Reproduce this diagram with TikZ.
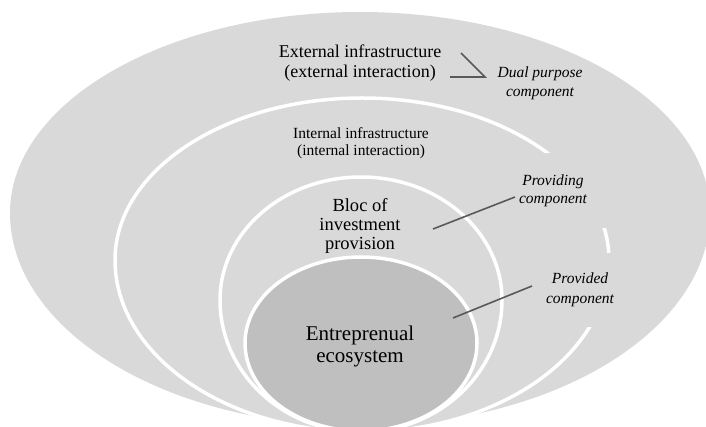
\documentclass[tikz,border=0pt]{standalone}
\usepackage{fontspec}
\setmainfont{Liberation Serif}
\definecolor{lightfill}{HTML}{D9D9D9}
\definecolor{darkfill}{HTML}{BFBFBF}
\definecolor{leadcol}{HTML}{595959}
\tikzset{
  ringshape/.style={fill=lightfill, draw=white, line width=3.5pt},
  coreshape/.style={fill=darkfill, draw=white, line width=3.5pt},
  masker/.style={fill=lightfill, draw=none},
  maintext/.style={inner sep=0pt, align=center, text=black},
  sidetext/.style={inner sep=0pt, align=center, text=black, font=\fontsize{15.5}{19}\selectfont\itshape},
  leader/.style={draw=leadcol, line width=1.6pt}
}
\begin{document}
\begin{tikzpicture}[x=1pt, y=-1pt]
\useasboundingbox (0,0) rectangle (706,427);
\clip (0,0) rectangle (706,427);
% outer shape
\path[fill=lightfill] (10,213) arc[start angle=180, end angle=360, x radius=350, y radius=201]
  arc[start angle=0, end angle=180, x radius=350, y radius=213] -- cycle;
% internal infrastructure ring
\path[ringshape] (115,260) arc[start angle=180, end angle=360, x radius=247, y radius=162]
  arc[start angle=0, end angle=180, x radius=247, y radius=172] -- cycle;
% bloc of investment provision
\path[ringshape] (220,300) arc[start angle=180, end angle=360, x radius=141, y radius=123]
  arc[start angle=0, end angle=180, x radius=141, y radius=132] -- cycle;
% entreprenual ecosystem
\path[coreshape] (245,343) arc[start angle=180, end angle=360, x radius=116, y radius=86]
  arc[start angle=0, end angle=180, x radius=116, y radius=88] -- cycle;
% label backgrounds that interrupt the ring
\path[masker] (512,153) rectangle (618,228);
\path[masker] (532,253) rectangle (618,327);
% texts
\node[maintext, font=\fontsize{18}{20}\selectfont] (ext) at (360,63) {External infrastructure\\(external interaction)};
\node[maintext, font=\fontsize{15.5}{17}\selectfont] (int) at (361,143) {Internal infrastructure\\(internal interaction)};
\node[maintext, font=\fontsize{18.5}{19}\selectfont] (bloc) at (360,226) {Bloc of\\investment\\provision};
\node[maintext, font=\fontsize{21}{22}\selectfont] (eco) at (360,346) {Entreprenual\\ecosystem};
\node[sidetext] (dual) at (540,83) {Dual purpose\\component};
\node[sidetext, font=\fontsize{15.5}{18}\selectfont\itshape] (providing) at (553,191) {Providing\\component};
\node[sidetext, font=\fontsize{15.5}{20}\selectfont\itshape] (provided) at (580,290) {Provided\\component};
% leader lines
\coordinate (d1) at (461,53);
\coordinate (d2) at (485,77);
\coordinate (d3) at (450,77);
\coordinate (p1) at (433,229);
\coordinate (p2) at (515,197);
\coordinate (q1) at (453,318);
\coordinate (q2) at (532,286);
\draw[leader] (d1) -- (d2) -- (d3);
\draw[leader] (p1) -- (p2);
\draw[leader] (q1) -- (q2);
\end{tikzpicture}
\end{document}
